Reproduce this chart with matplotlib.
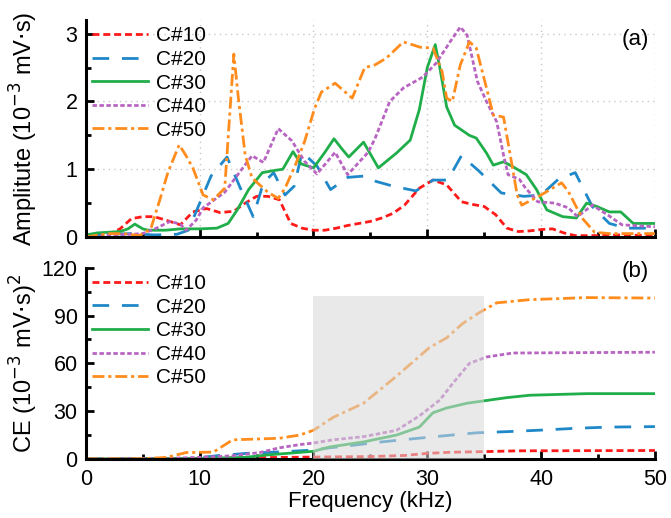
import matplotlib
matplotlib.use("Agg")
import matplotlib.pyplot as plt
from matplotlib.ticker import MultipleLocator

plt.rcParams['font.family'] = ['Liberation Sans', 'DejaVu Sans']

labels = ["C#10", "C#20", "C#30", "C#40", "C#50"]
colors = ["#ff1a1a", "#1f88c8", "#1fae4a", "#b865c2", "#ff8c1c"]
styles = [(0, (2.5, 1.4)), (0, (6, 4.6)), "-", (0, (1.6, 0.9)), (0, (4.3, 1.4, 1.1, 1.4))]

# (a) amplitude spectra, frequency in kHz, amplitude in 1e-3 mV.s
f10 = [0, 1, 2, 3, 4, 5, 6, 7, 8.3, 9.4, 10.6, 11.8, 13, 14, 15, 16, 17, 18, 19, 20, 21, 22, 23,
       24, 25, 26, 27, 28, 29.3, 30.5, 31.7, 33, 34, 35, 36, 37, 38, 39, 40, 41, 42, 43, 45, 47, 50]
a10 = [0, 0.02, 0.04, 0.12, 0.27, 0.3, 0.3, 0.25, 0.18, 0.37, 0.42, 0.36, 0.38, 0.5, 0.6, 0.6, 0.55,
       0.2, 0.13, 0.1, 0.1, 0.13, 0.17, 0.2, 0.23, 0.28, 0.35, 0.47, 0.72, 0.84, 0.77, 0.52, 0.48,
       0.45, 0.33, 0.13, 0.08, 0.09, 0.11, 0.12, 0.06, 0.02, 0.02, 0.03, 0.02]

f20 = [0, 2, 4, 6, 8, 9, 10, 11, 12.4, 13.5, 14.7, 15.6, 16.5, 17.5, 18.3, 19, 20.3, 21.5, 23,
       24.5, 25.5, 27, 29, 30.5, 31.8, 33, 34.5, 36.5, 38.5, 40, 41.5, 43, 44.5, 46, 47.5, 50]
a20 = [0, 0.04, 0.05, 0.03, 0.04, 0.1, 0.5, 0.9, 1.18, 0.75, 0.3, 0.8, 0.95, 0.62, 0.75, 1.25,
       1.05, 0.7, 0.88, 0.9, 0.82, 0.75, 0.68, 0.84, 0.84, 1.2, 0.98, 0.65, 0.6, 0.62, 0.85, 0.95,
       0.45, 0.2, 0.13, 0.13]

f30 = [0, 1, 2, 3, 3.7, 4.3, 5, 5.5, 7, 8.3, 10, 11.5, 12.5, 13.3, 14.3, 15.5, 16.5, 17.3, 18.2,
       18.9, 20, 21, 21.8, 22.5, 23.1, 24.4, 25.7, 27.3, 28.5, 29.3, 30, 30.7, 31.1, 31.7, 32.4,
       33.7, 34.3, 35.2, 35.8, 36.7, 37.5, 38.7, 39.6, 40.5, 41.9, 43.1, 44, 44.9, 46, 47, 48.1, 50]
a30 = [0.03, 0.06, 0.07, 0.08, 0.12, 0.19, 0.12, 0.1, 0.1, 0.12, 0.12, 0.13, 0.2, 0.4, 0.7, 0.95,
       0.98, 1.0, 1.26, 1.08, 1.02, 1.25, 1.45, 1.3, 1.18, 1.4, 1.02, 1.24, 1.43, 1.88, 2.5, 2.84,
       2.5, 1.92, 1.65, 1.5, 1.46, 1.24, 1.06, 1.11, 1.04, 0.92, 0.7, 0.4, 0.3, 0.28, 0.5, 0.45,
       0.37, 0.37, 0.2, 0.2]

f40 = [0, 2, 4, 5, 6.2, 7.4, 8.3, 8.8, 9.7, 10.3, 12.2, 13.7, 14.6, 15.6, 16.9, 18.1, 19.2, 20.3,
       21.9, 23, 24.8, 25.4, 26.7, 27.9, 29.6, 30.8, 32, 32.9, 33.5, 34.4, 35.2, 36.1, 36.7, 37.1,
       38.1, 38.6, 39.7, 41.2, 42.4, 43.2, 44.5, 45.9, 47.1, 50]
a40 = [0, 0.03, 0.04, 0.05, 0.13, 0.23, 0.19, 0.1, 0.25, 0.43, 0.66, 1.0, 1.2, 1.1, 1.6, 1.42,
       1.12, 0.93, 1.25, 0.92, 1.25, 1.45, 2.0, 2.2, 2.36, 2.57, 2.88, 3.1, 2.98, 2.3, 2.0, 1.7,
       1.21, 0.92, 0.85, 0.73, 0.52, 0.5, 0.43, 0.3, 0.47, 0.32, 0.18, 0.15]

f50 = [0, 2, 3.3, 4.7, 5.7, 6.5, 7.2, 8.2, 8.8, 9.4, 10.3, 11.2, 12.2, 13.0, 13.4, 14.0, 14.6,
       16.0, 16.9, 17.5, 18.4, 19.2, 20.1, 20.7, 21.9, 23.4, 24.5, 25.4, 26.4, 27.9, 29.4, 30.5,
       31.3, 31.7, 32.2, 32.9, 33.7, 34.3, 35.2, 35.8, 36.7, 37.3, 37.9, 38.3, 40, 41.8, 42.4,
       43.6, 44.7, 46, 50]
a50 = [0, 0.05, 0.05, 0.02, 0.12, 0.55, 0.95, 1.36, 1.2, 1.02, 0.62, 0.55, 0.72, 2.7, 2.05, 1.21,
       0.87, 0.66, 0.57, 0.72, 1.06, 1.4, 1.9, 2.14, 2.27, 2.05, 2.5, 2.54, 2.64, 2.88, 2.8, 2.79,
       2.44, 2.05, 2.0, 2.54, 2.88, 2.79, 2.2, 1.8, 1.77, 1.2, 0.62, 0.47, 0.62, 0.8, 0.67, 0.28,
       0.07, 0.05, 0.05]

# (b) cumulative energy, 1e-3 (mV.s)^2
g10 = [0, 5, 10, 15, 20, 25, 28, 30, 32, 35, 38, 50]
c10 = [0, 0.1, 0.4, 0.8, 1.2, 1.5, 2.2, 3.5, 4.2, 4.6, 5.1, 5.3]
g20 = [0, 9, 11.5, 14.1, 17.3, 20, 21.4, 22.8, 25.7, 28.5, 31.4, 34.3, 37.2, 40, 43.2, 46, 50]
c20 = [0, 0.1, 2.0, 3.5, 4.5, 5.6, 7.0, 8.0, 10.5, 12.5, 14.5, 16.4, 17.2, 18.1, 19.3, 20.0, 20.3]
g30 = [0, 10, 14, 15.9, 20, 21.4, 24.4, 27.3, 29.3, 30.5, 31.7, 33.5, 35.1, 37, 39, 44, 50]
c30 = [0, 0.3, 1.0, 2.5, 4.8, 7.5, 10.7, 15, 20, 29, 32, 35, 36.6, 38.5, 40, 41, 41]
g40 = [0, 6.5, 10, 12.9, 15.3, 17, 18.8, 20, 21.7, 24.4, 27.3, 29.3, 31.1, 32.3, 33.7, 35.2, 37.5, 50]
c40 = [0, 0.2, 1.0, 2.0, 4, 7, 9, 10, 12, 14, 18, 27, 37, 48, 60, 64, 66.5, 67]
g50 = [0, 5, 7.1, 8.8, 11.2, 12.9, 17, 18.8, 20, 21.7, 24.4, 27.3, 30.2, 31.7, 33.1, 34.6, 36.1, 39, 44, 50]
c50 = [0, 0.1, 1, 4, 4.3, 12, 13, 15, 18, 26, 35, 52, 70, 76, 85, 92, 98, 100, 101.3, 101]

amp = [(f10, a10), (f20, a20), (f30, a30), (f40, a40), (f50, a50)]
ce = [(g10, c10), (g20, c20), (g30, c30), (g40, c40), (g50, c50)]

fig = plt.figure(figsize=(6.71, 5.18), dpi=100)
ax1 = fig.add_axes([0.128, 0.5425, 0.848, 0.4185])
ax2 = fig.add_axes([0.128, 0.114, 0.848, 0.369])

for (x, y), lab, c, ls in zip(amp, labels, colors, styles):
    ax1.plot(x, y, color=c, ls=ls, lw=2.0, label=lab)
for (x, y), lab, c, ls in zip(ce, labels, colors, styles):
    ax2.plot(x, y, color=c, ls=ls, lw=2.0, label=lab)

# shaded band sits over the lines
ax2.axvspan(20, 35, ymin=0, ymax=102 / 120, color="#d8d8d8", alpha=0.55, lw=0, zorder=5)

for ax in (ax1, ax2):
    ax.set_xlim(0, 50)
    ax.xaxis.set_major_locator(MultipleLocator(10))
    ax.xaxis.set_minor_locator(MultipleLocator(5))
    for s in ("top", "right"):
        ax.spines[s].set_visible(False)
    for s in ("left", "bottom"):
        ax.spines[s].set_linewidth(2.2)
    ax.tick_params(which="major", direction="in", length=6, width=2, labelsize=15.5, pad=6)
    ax.tick_params(which="minor", direction="in", length=3.5, width=2)
    ax.legend(loc="upper left", bbox_to_anchor=(0.0, 1.0), frameon=False, fontsize=15,
              handlelength=2.7, handletextpad=0.35, labelspacing=0.22, borderaxespad=0.2,
              borderpad=0.1)

ax1.set_ylim(0, 3.2)
ax1.yaxis.set_major_locator(MultipleLocator(1))
ax1.yaxis.set_minor_locator(MultipleLocator(0.5))
ax1.tick_params(axis="x", labelbottom=False)
ax1.grid(True, which="major", color="#c8c8c8", lw=1, ls=(0, (1, 3)))
ax1.set_axisbelow(True)
ax1.set_ylabel("Amplitute (10$^{-3}$ mV$\\cdot$s)", fontsize=17)
ax1.yaxis.set_label_coords(-0.08, 0.5)
ax1.text(0.99, 0.91, "(a)", transform=ax1.transAxes, ha="right", va="center", fontsize=16)

ax2.set_ylim(0, 120)
ax2.yaxis.set_major_locator(MultipleLocator(30))
ax2.yaxis.set_minor_locator(MultipleLocator(15))
ax2.set_ylabel("CE (10$^{-3}$ mV$\\cdot$s)$^2$", fontsize=17)
ax2.yaxis.set_label_coords(-0.08, 0.5)
ax2.tick_params(axis="x", pad=7)
ax2.set_xlabel("Frequency (kHz)", fontsize=16, labelpad=1)
ax2.text(0.99, 0.98, "(b)", transform=ax2.transAxes, ha="right", va="center", fontsize=16)

plt.savefig("out.png", dpi=100)
